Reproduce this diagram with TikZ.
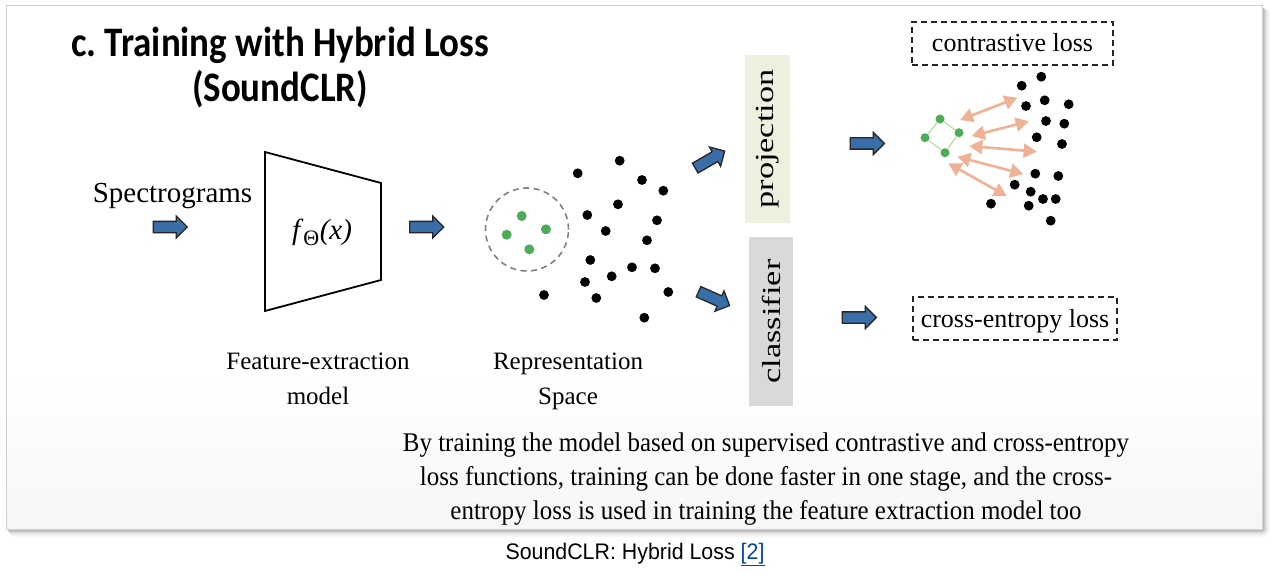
\documentclass[tikz,border=0pt]{standalone}
\usepackage{fontspec}
\setmainfont{Liberation Serif}
\newfontfamily\titlefont[FakeStretch=0.88]{Carlito}
\newfontfamily\capfont[FakeStretch=0.95]{Liberation Sans}
\newfontfamily\wideserif[FakeStretch=1.32]{Liberation Serif}
\newfontfamily\condserif[FakeStretch=0.925]{Liberation Serif}
\usetikzlibrary{shapes.arrows,arrows.meta}
\definecolor{arrblue}{RGB}{58,110,168}
\definecolor{dotgreen}{RGB}{78,172,88}
\definecolor{salmon}{RGB}{240,178,148}
\definecolor{projgreen}{RGB}{235,241,222}
\definecolor{clsgray}{RGB}{217,217,217}
\definecolor{linkblue}{RGB}{6,69,173}
\definecolor{edgegreen}{RGB}{170,212,135}
\pgfdeclareverticalshading{cardshade}{100bp}{color(0bp)=(black!9); color(40bp)=(white); color(100bp)=(white)}
\tikzset{
  blockarr/.style={single arrow, draw=black!85, fill=arrblue, line width=1.3pt,
    minimum height=34pt, inner sep=5pt, single arrow head extend=5.5pt, single arrow tip angle=90},
  bdot/.style={circle, fill=black, inner sep=0pt, minimum size=9.8pt},
  gdot/.style={circle, fill=dotgreen, inner sep=0pt, minimum size=10pt},
  lossbox/.style={draw=black!85, dashed, dash pattern=on 6pt off 4pt, line width=1.6pt, inner sep=0pt},
  dbl/.style={salmon, line width=2.6pt, {Triangle[length=13pt,width=14pt]}-{Triangle[length=13pt,width=14pt]}},
  lbl/.style={font=\fontsize{25}{30}\selectfont, anchor=base},
  para/.style={font=\condserif\fontsize{27}{30}\selectfont, anchor=base},
  vbox/.style={rotate=90, font=\wideserif\fontsize{26}{30}\selectfont, inner sep=0pt},
}
\begin{document}
\frenchspacing
\begin{tikzpicture}[x=1pt,y=-1pt]
\useasboundingbox (0,0) rectangle (1270,575);
\fill[white] (0,0) rectangle (1270,575);
% card shadow and card
\foreach \d/\o in {7/0.03,5/0.05,3/0.08,1.5/0.12}
  \fill[black,opacity=\o,rounded corners=\d] (8,8) rectangle (1263+\d,530+\d);
\shade[shading=cardshade] (6,5) rectangle (1262,529);
\draw[black!18,line width=0.6pt] (6,5) rectangle (1262,529);

% title
\node[font=\titlefont\bfseries\fontsize{42}{46}\selectfont, anchor=base] (title1) at (280,57) {c. Training with Hybrid Loss};
\node[font=\titlefont\bfseries\fontsize{42}{46}\selectfont, anchor=base] (title2) at (280,102) {(SoundCLR)};

% input
\node[font=\fontsize{29}{34}\selectfont, anchor=base] (spec) at (172.5,203) {Spectrograms};
\node[blockarr] (a1) at (167.5,227) {};

% feature extractor
\draw[line width=1.8pt, line join=miter] (265,152) -- (381,183) -- (381,280) -- (265,311) -- cycle;
\node[font=\fontsize{29}{34}\selectfont] (f) at (322,232) {\textit{f}\textsubscript{\fontsize{22}{24}\selectfont Θ}\textit{(x)}};
\node[lbl] (fe1) at (318,369) {Feature-extraction};
\node[lbl] (fe2) at (318,404) {model};
\node[blockarr] (a2) at (424,227) {};

% representation space
\node[draw=black!50, dashed, dash pattern=on 6pt off 4.5pt, line width=1.6pt, circle, minimum size=83pt, inner sep=0pt] (circ) at (527,229.5) {};
\foreach \x/\y [count=\i] in {521.7/216,506.7/234.7,546/229.3,529.3/249.3}
  \node[gdot] (c\i) at (\x,\y) {};
\foreach \x/\y [count=\i] in {577.7/173.3,619.7/160.7,642/180,663.3/190.7,618/204.3,587.3/215,657/220.3,605.7/231,647/240.3,590.3/260,632/267.3,655/268.3,585/282,611.7/276.3,544/295,596.3/298,668.3/292,644.3/317.7}
  \node[bdot] (r\i) at (\x,\y) {};
\node[lbl] (rs1) at (568,369) {Representation};
\node[lbl] (rs2) at (568,404) {Space};

% heads
\node[blockarr, rotate=30] (a3) at (707.5,161) {};
\node[blockarr, rotate=-24] (a4) at (711.5,297.5) {};
\node[vbox, fill=projgreen, minimum width=168pt, minimum height=45pt] (proj) at (767.5,139) {projection};
\node[vbox, fill=clsgray, minimum width=169pt, minimum height=44pt] (cls) at (771,321.5) {classifier};
\node[blockarr] (a5) at (864.5,143.5) {};
\node[blockarr] (a6) at (856.5,317.5) {};

% contrastive loss
\node[lossbox, minimum width=201pt, minimum height=43pt] (closs) at (1012.5,43.5) {};
\node[font=\fontsize{26}{30}\selectfont, anchor=base] (clt) at (closs.center |- 0,52) {contrastive loss};
\foreach \x/\y [count=\i] in {940/119,959/132.7,945/152.7,925/137.7}
  \node[gdot, minimum size=9pt] (g\i) at (\x,\y) {};
\draw[edgegreen, line width=0.9pt] (g1) -- (g2) -- (g3) -- (g4) -- (g1);
\foreach \x/\y [count=\i] in {1041.3/76.7,1021.7/85.7,1026/106,1044.7/100.3,1068.7/104.3,1046/121,1064.3/123.7,1036.7/137.3,1062/144,1035.3/173.7,1058.3/176,1014.7/184.7,1030.7/191.7,1043/199,1055.7/199,991/203.7,1028.7/205.7,1050.7/220.7}
  \node[bdot] (p\i) at (\x,\y) {};
\coordinate (s1) at (960,120);   \coordinate (e1) at (1017.3,97.7);
\coordinate (s2) at (971.7,136); \coordinate (e2) at (1028.7,121.3);
\coordinate (s3) at (969.3,146); \coordinate (e3) at (1036.7,151.7);
\coordinate (s4) at (957.3,156.7); \coordinate (e4) at (1023.3,174);
\coordinate (s5) at (948.3,163.3); \coordinate (e5) at (1006.7,196);
\foreach \i in {1,...,5} \draw[dbl] (s\i) -- (e\i);

% cross-entropy loss
\node[lossbox, minimum width=204pt, minimum height=43pt] (xloss) at (1015,318.5) {};
\node[font=\fontsize{26}{30}\selectfont, anchor=base] (xlt) at (xloss.center |- 0,327) {cross-entropy loss};

% paragraph
\node[para] (l1) at (766,451) {By training the model based on supervised contrastive and cross-entropy};
\node[para] (l2) at (766,485) {loss functions, training can be done faster in one stage, and the cross-};
\node[para] (l3) at (766,519) {entropy loss is used in training the feature extraction model too};

% caption
\node[font=\capfont\fontsize{22.5}{24}\selectfont, anchor=base] (cap) at (635,559) {SoundCLR: Hybrid Loss \textcolor{linkblue}{\underline{[2]}}};
\end{tikzpicture}
\end{document}
